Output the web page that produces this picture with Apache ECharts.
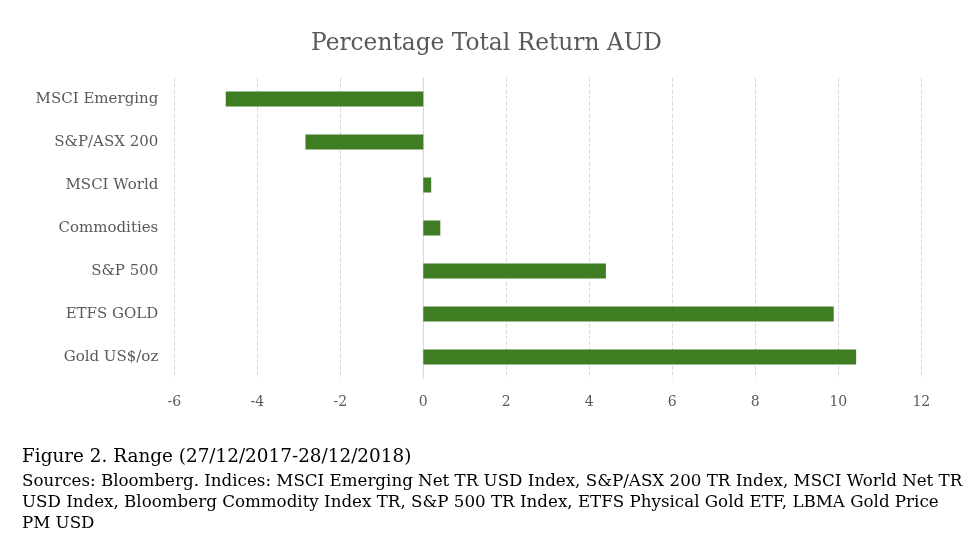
<!DOCTYPE html>
<html><head><meta charset="utf-8">
<script src="https://cdn.jsdelivr.net/npm/echarts@6/dist/echarts.min.js"></script>
<style>html,body{margin:0;padding:0;background:#fff}#c{width:978px;height:553px}</style>
</head><body><div id="c"></div>
<script>
const categories = ['MSCI Emerging', 'S&P/ASX 200', 'MSCI World', 'Commodities', 'S&P 500', 'ETFS GOLD', 'Gold US$/oz'];
const returns = [-4.76, -2.84, 0.19, 0.41, 4.40, 9.89, 10.43];
const xTicks = {min: -6, max: 12, interval: 2};
const titleText = 'Percentage Total Return AUD';
const captionLines = [
  'Figure 2. Range (27/12/2017-28/12/2018)',
  'Sources: Bloomberg. Indices: MSCI Emerging Net TR USD Index, S&P/ASX 200 TR Index, MSCI World Net TR',
  'USD Index, Bloomberg Commodity Index TR, S&P 500 TR Index, ETFS Physical Gold ETF, LBMA Gold Price',
  'PM USD'
];
const F = 'DejaVu Serif, serif';
const chart = echarts.init(document.getElementById('c'), null, {renderer: 'canvas'});
chart.setOption({
  animation: false,
  backgroundColor: '#fff',
  title: {text: titleText, left: 306, top: 27, textStyle: {fontFamily: F, fontSize: 23.3, fontWeight: 'normal', color: '#595959'}},
  grid: {left: 174.3, right: 56.7, top: 77.5, bottom: 174.5, containLabel: false},
  xAxis: {type: 'value', min: xTicks.min, max: xTicks.max, interval: xTicks.interval,
    axisLine: {show: false}, axisTick: {show: false},
    axisLabel: {fontFamily: F, fontSize: 14, color: '#595959', margin: 17},
    splitLine: {show: true, lineStyle: {color: '#d9d9d9', type: [4, 2], width: 1}}},
  yAxis: {type: 'category', data: categories, inverse: true,
    axisLine: {show: false}, axisTick: {show: false},
    axisLabel: {fontFamily: F, fontSize: 15, color: '#595959', margin: 16}},
  series: [{type: 'bar', data: returns, barWidth: 15, itemStyle: {color: '#3e7d22'}}],
  graphic: [
    {type: 'line', shape: {x1: 423.3, y1: 77.5, x2: 423.3, y2: 378.5}, style: {stroke: '#d9d9d9', lineWidth: 1}, z: 1},
    {type: 'text', left: 22, top: 448, style: {text: captionLines[0], font: '18.4px ' + F, fill: '#000'}},
    {type: 'text', left: 22, top: 471, style: {text: captionLines.slice(1).join('\n'), font: '16.7px ' + F, fill: '#000', lineHeight: 21}}
  ]
});
</script></body></html>
